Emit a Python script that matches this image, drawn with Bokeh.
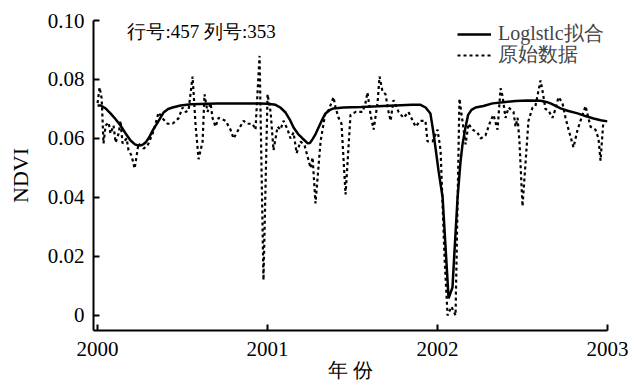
from bokeh.plotting import figure
from bokeh.models import (FixedTicker, CustomJSTickFormatter, Label, Legend,
                          LegendItem, Range1d)
from bokeh.embed import file_html
from bokeh.resources import INLINE

# ---- data ----
raw_t = [2000.000, 2000.012, 2000.024, 2000.035, 2000.047, 2000.065, 2000.076, 2000.094,
         2000.106, 2000.124, 2000.135, 2000.147, 2000.171, 2000.182, 2000.200, 2000.218,
         2000.241, 2000.271, 2000.294, 2000.324, 2000.341, 2000.359, 2000.382, 2000.412,
         2000.441, 2000.476, 2000.500, 2000.518, 2000.535, 2000.559, 2000.576, 2000.594,
         2000.618, 2000.629, 2000.647, 2000.665, 2000.676, 2000.694, 2000.712, 2000.753,
         2000.782, 2000.800, 2000.829, 2000.859, 2000.882, 2000.912, 2000.929, 2000.953,
         2000.976, 2001.000, 2001.018, 2001.035, 2001.059, 2001.076, 2001.094, 2001.118,
         2001.135, 2001.153, 2001.171, 2001.194, 2001.218, 2001.235, 2001.253, 2001.265,
         2001.282, 2001.312, 2001.341, 2001.359, 2001.388, 2001.400, 2001.418, 2001.435,
         2001.459, 2001.488, 2001.518, 2001.559, 2001.576, 2001.588, 2001.606, 2001.624,
         2001.647, 2001.659, 2001.676, 2001.694, 2001.712, 2001.724, 2001.741, 2001.771,
         2001.800, 2001.829, 2001.871, 2001.900, 2001.929, 2001.941, 2001.971, 2002.000,
         2002.018, 2002.041, 2002.059, 2002.082, 2002.106, 2002.129, 2002.165, 2002.182,
         2002.206, 2002.235, 2002.253, 2002.282, 2002.312, 2002.329, 2002.353, 2002.371,
         2002.382, 2002.400, 2002.418, 2002.447, 2002.459, 2002.471, 2002.482, 2002.500,
         2002.535, 2002.559, 2002.576, 2002.606, 2002.618, 2002.635, 2002.653, 2002.676,
         2002.694, 2002.712, 2002.735, 2002.753, 2002.771, 2002.800, 2002.824, 2002.841,
         2002.871, 2002.900, 2002.929, 2002.947, 2002.959, 2002.976]
raw_v = [0.0720, 0.0773, 0.0736, 0.0583, 0.0644, 0.0654, 0.0617, 0.0644,
         0.0586, 0.0617, 0.0660, 0.0583, 0.0600, 0.0560, 0.0542, 0.0498,
         0.0583, 0.0566, 0.0576, 0.0617, 0.0650, 0.0688, 0.0668, 0.0650,
         0.0650, 0.0668, 0.0705, 0.0690, 0.0695, 0.0810, 0.0650, 0.0530,
         0.0590, 0.0750, 0.0690, 0.0720, 0.0670, 0.0640, 0.0670, 0.0660,
         0.0630, 0.0600, 0.0630, 0.0660, 0.0650, 0.0650, 0.0630, 0.0880,
         0.0120, 0.0750, 0.0690, 0.0560, 0.0640, 0.0630, 0.0660, 0.0630,
         0.0600, 0.0620, 0.0550, 0.0590, 0.0576, 0.0540, 0.0500, 0.0536,
         0.0380, 0.0590, 0.0690, 0.0695, 0.0740, 0.0705, 0.0670, 0.0650,
         0.0410, 0.0680, 0.0690, 0.0690, 0.0720, 0.0756, 0.0680, 0.0630,
         0.0720, 0.0810, 0.0760, 0.0750, 0.0690, 0.0660, 0.0730, 0.0690,
         0.0670, 0.0690, 0.0640, 0.0660, 0.0660, 0.0590, 0.0590, 0.0630,
         0.0560, 0.0200, 0.0000, 0.0030, 0.0000, 0.0735, 0.0580, 0.0650,
         0.0630, 0.0620, 0.0600, 0.0610, 0.0660, 0.0680, 0.0630, 0.0770,
         0.0745, 0.0670, 0.0705, 0.0690, 0.0640, 0.0670, 0.0590, 0.0370,
         0.0660, 0.0705, 0.0710, 0.0797, 0.0760, 0.0700, 0.0695, 0.0670,
         0.0700, 0.0740, 0.0720, 0.0670, 0.0630, 0.0570, 0.0630, 0.0660,
         0.0710, 0.0640, 0.0630, 0.0600, 0.0525, 0.0660]

fit_t = [2000.000, 2000.018, 2000.047, 2000.076, 2000.105, 2000.135, 2000.165, 2000.194,
         2000.220, 2000.241, 2000.262, 2000.282, 2000.303, 2000.324, 2000.353, 2000.388,
         2000.415, 2000.441, 2000.488, 2000.550, 2000.700, 2000.850, 2000.950, 2001.000,
         2001.047, 2001.075, 2001.106, 2001.130, 2001.153, 2001.180, 2001.206, 2001.235,
         2001.250, 2001.265, 2001.280, 2001.300, 2001.320, 2001.341, 2001.365, 2001.388,
         2001.447, 2001.550, 2001.650, 2001.750, 2001.850, 2001.900, 2001.930, 2001.958,
         2001.976, 2001.990, 2002.006, 2002.030, 2002.065, 2002.088, 2002.100, 2002.118,
         2002.135, 2002.147, 2002.165, 2002.180, 2002.200, 2002.224, 2002.270, 2002.324,
         2002.400, 2002.459, 2002.530, 2002.606, 2002.640, 2002.665, 2002.724, 2002.770,
         2002.824, 2002.870, 2002.918, 2002.960, 2003.000]
fit_v = [0.0712, 0.0712, 0.0702, 0.0685, 0.0666, 0.0644, 0.0617, 0.0593,
         0.0580, 0.0576, 0.0578, 0.0586, 0.0603, 0.0627, 0.0654, 0.0688,
         0.0700, 0.0705, 0.0712, 0.0716, 0.0719, 0.0719, 0.0719, 0.0718,
         0.0714, 0.0705, 0.0688, 0.0665, 0.0637, 0.0615, 0.0600, 0.0584,
         0.0585, 0.0598, 0.0612, 0.0637, 0.0662, 0.0685, 0.0696, 0.0702,
         0.0705, 0.0707, 0.0709, 0.0712, 0.0714, 0.0714, 0.0705, 0.0685,
         0.0620, 0.0560, 0.0490, 0.0400, 0.0058, 0.0095, 0.0220, 0.0400,
         0.0520, 0.0580, 0.0640, 0.0680, 0.0697, 0.0705, 0.0710, 0.0719,
         0.0724, 0.0727, 0.0729, 0.0728, 0.0724, 0.0719, 0.0702, 0.0693,
         0.0685, 0.0676, 0.0668, 0.0662, 0.0658]

x_ticks = [2000, 2001, 2002, 2003]
y_ticks = [0, 0.02, 0.04, 0.06, 0.08, 0.10]
y_tick_labels = ["0", "0.02", "0.04", "0.06", "0.08", "0.10"]

series_names = ["Loglstlc拟合", "原始数据"]
x_title = "年 份"
y_title = "NDVI"
note = "行号:457 列号:353"

SERIF = "Liberation Serif"

p = figure(width=640, height=388,
           x_range=Range1d(1999.976, 2003.0), y_range=Range1d(-0.0051, 0.10),
           output_backend="svg", toolbar_location=None,
           min_border_left=93, min_border_right=33, min_border_top=20, min_border_bottom=58)
p.outline_line_color = None
p.grid.visible = False
p.background_fill_color = "white"
p.border_fill_color = "white"

fit_r = p.line(fit_t, fit_v, line_color="black", line_width=2.5)
raw_r = p.line(raw_t, raw_v, line_color="black", line_width=2.2, line_dash="3 3")

for ax in (p.xaxis[0], p.yaxis[0]):
    ax.axis_line_width = 2
    ax.axis_line_color = "black"
    ax.major_tick_line_width = 2
    ax.major_tick_in = 6
    ax.major_tick_out = 0
    ax.minor_tick_in = 0
    ax.minor_tick_out = 0
    ax.major_label_text_font = SERIF
    ax.major_label_text_font_size = "21px"
    ax.major_label_text_color = "black"
    ax.axis_label_text_font = SERIF
    ax.axis_label_text_font_style = "normal"
    ax.axis_label_text_color = "black"

p.xaxis.ticker = FixedTicker(ticks=x_ticks)
p.xaxis.major_label_standoff = 11
p.xaxis.axis_label = x_title
p.xaxis.axis_label_text_font_size = "20px"
p.xaxis.axis_label_standoff = 0

p.yaxis.ticker = FixedTicker(ticks=y_ticks)
p.yaxis.formatter = CustomJSTickFormatter(
    args=dict(tvals=y_ticks, tlabels=y_tick_labels),
    code="const i = tvals.findIndex(t => Math.abs(t - tick) < 1e-9); return i >= 0 ? tlabels[i] : '';")
p.yaxis.major_label_standoff = 9
p.yaxis.axis_label = y_title
p.yaxis.axis_label_text_font_size = "22px"
p.yaxis.axis_label_standoff = 12

p.add_layout(Label(x=2000.176, y=0.0963, text=note, text_align="left",
                   text_baseline="middle", text_font=SERIF, text_font_size="19px",
                   text_color="black"))

common = dict(padding=0, margin=0, spacing=0, glyph_width=34, glyph_height=20,
              label_height=20, label_standoff=7, label_text_font=SERIF,
              label_text_font_size="20px", border_line_alpha=0, background_fill_alpha=0)
leg1 = Legend(items=[LegendItem(label=series_names[0], renderers=[fit_r])],
              location=(364, 283), **common)
leg2 = Legend(items=[LegendItem(label=series_names[1], renderers=[raw_r])],
              location=(364, 262), **common)
p.add_layout(leg1)
p.add_layout(leg2)

open("out.html", "w").write(file_html(p, INLINE))
